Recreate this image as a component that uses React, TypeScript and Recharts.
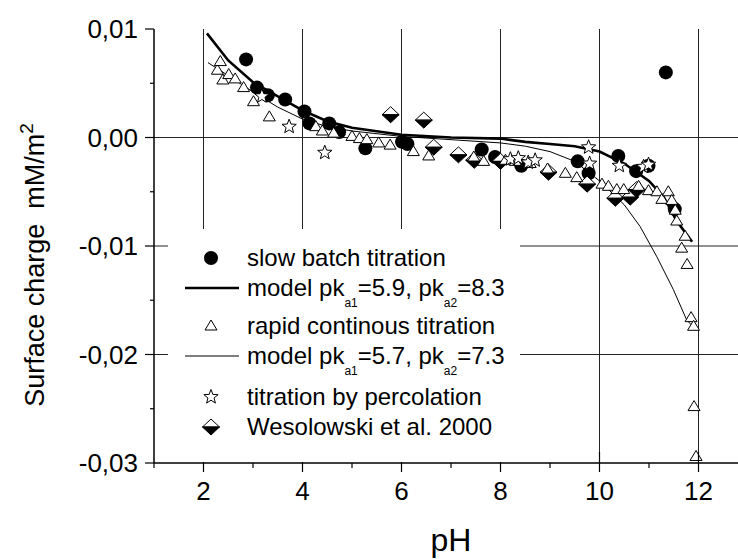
import React from 'react';
import { ScatterChart, Scatter, XAxis, YAxis, ReferenceLine } from 'recharts';

// surface charge (mM/m2) vs pH
const slowBatch: [number, number][] = [
  [2.86, 0.0072], [3.08, 0.0046], [3.3, 0.0039], [3.65, 0.0035], [4.04, 0.0024],
  [4.14, 0.0013], [4.54, 0.0013], [4.74, 0.0005], [5.27, -0.001], [6.01, -0.0004],
  [6.12, -0.0006], [7.62, -0.0011], [7.89, -0.0018], [8.42, -0.0026], [9.56, -0.0022],
  [9.78, -0.0033], [10.38, -0.0017], [10.74, -0.0031], [10.99, -0.0026], [11.34, 0.006],
  [11.52, -0.0066],
];

const modelSlow: [number, number][] = [
  [2.07, 0.0096], [2.5, 0.0071], [3.0, 0.0051], [3.5, 0.0038], [4.0, 0.0025],
  [4.5, 0.0015], [5.0, 0.0009], [6.0, 0.00025], [7.0, 0.0], [8.0, -0.0001],
  [8.5, -0.0004], [9.0, -0.0006], [9.5, -0.0008], [10.0, -0.0013], [10.5, -0.0024],
  [11.0, -0.004], [11.3, -0.0055], [11.56, -0.0077], [11.87, -0.0096],
];

const rapidCont: [number, number][] = [
  [2.28, 0.0062], [2.34, 0.007], [2.39, 0.0053], [2.51, 0.0058], [2.64, 0.0054],
  [2.81, 0.0046], [3.01, 0.0033], [3.33, 0.0019], [4.27, 0.001], [4.4, 0.0006],
  [4.63, 0.0004], [5.0, 0.0001], [5.15, -0.0001], [5.3, -0.0002], [5.54, -0.0005],
  [5.77, -0.0007], [6.24, -0.0013], [6.55, -0.0017], [7.46, -0.0018], [7.66, -0.0022],
  [8.1, -0.0021], [8.3, -0.0022], [8.6, -0.0024], [8.95, -0.0029], [9.31, -0.0033],
  [9.54, -0.0037], [10.05, -0.0043], [10.18, -0.0045], [10.35, -0.0048], [10.49, -0.0048],
  [10.79, -0.0045], [10.99, -0.0049], [11.16, -0.005], [11.26, -0.0057], [11.39, -0.005],
  [11.46, -0.0058], [11.53, -0.0067], [11.56, -0.0077], [11.66, -0.0102], [11.73, -0.0091],
  [11.77, -0.0117], [11.85, -0.0166], [11.9, -0.0174], [11.91, -0.0248], [11.95, -0.0294],
];

const modelRapid: [number, number][] = [
  [2.09, 0.0069], [2.5, 0.0057], [3.0, 0.0042], [3.5, 0.0028], [4.0, 0.0017],
  [4.5, 0.001], [5.0, 0.0006], [6.0, 0.0001], [7.0, -0.0002], [8.0, -0.0005],
  [8.5, -0.0008], [9.0, -0.0013], [9.5, -0.0022], [10.0, -0.004], [10.5, -0.0062],
  [10.82, -0.0082], [11.16, -0.011], [11.49, -0.014], [11.76, -0.0168], [11.9, -0.0175],
];

const percolation: [number, number][] = [
  [3.18, 0.0038], [3.73, 0.001], [4.45, -0.0014], [8.2, -0.002], [8.36, -0.0019],
  [8.56, -0.0023], [8.7, -0.0021], [9.78, -0.0009], [9.8, -0.0024], [10.4, -0.0026],
  [10.89, -0.0027], [10.99, -0.0025],
];

const wesolowski: [number, number][] = [
  [5.78, 0.0021], [6.45, 0.0016], [6.65, -0.0009], [7.15, -0.0016], [7.47, -0.0021],
  [8.0, -0.0022], [8.97, -0.0032], [9.75, -0.0043], [10.32, -0.0056], [10.62, -0.0055],
  [10.75, -0.0048],
];

const xTicks = [1, 2, 3, 4, 5, 6, 7, 8, 9, 10, 11, 12, 13];
const yTicks = [-0.03, -0.025, -0.02, -0.015, -0.01, -0.005, 0, 0.005, 0.01];
const gridX = [2, 4, 6, 8, 10, 12];
const gridY = [0, -0.01, -0.02];

const FONT = '"Liberation Sans", Arial, Helvetica, sans-serif';

const pts = (a: [number, number][]) => a.map(([x, y]) => ({ x, y }));

const Dot = ({ cx, cy }: any) => <circle cx={cx} cy={cy} r={7} fill="#000" />;

const Tri = ({ cx, cy }: any) => (
  <path d={`M${cx},${cy - 6} L${cx + 6},${cy + 4} L${cx - 6},${cy + 4} Z`} fill="#fff" stroke="#000" strokeWidth={1} />
);

const starPath = (cx: number, cy: number, R: number, r: number) => {
  let d = '';
  for (let i = 0; i < 10; i++) {
    const a = -Math.PI / 2 + (i * Math.PI) / 5;
    const rr = i % 2 === 0 ? R : r;
    d += `${i === 0 ? 'M' : 'L'}${cx + rr * Math.cos(a)},${cy + rr * Math.sin(a)} `;
  }
  return d + 'Z';
};

const Star = ({ cx, cy }: any) => <path d={starPath(cx, cy, 7.5, 3.2)} fill="#fff" stroke="#000" strokeWidth={1} />;

const HalfDiamond = ({ cx, cy }: any) => (
  <g>
    <path d={`M${cx - 8.5},${cy} L${cx},${cy - 8} L${cx + 8.5},${cy} Z`} fill="#fff" stroke="#000" strokeWidth={1} />
    <path d={`M${cx - 8.5},${cy} L${cx + 8.5},${cy} L${cx},${cy + 8} Z`} fill="#000" stroke="#000" strokeWidth={1} />
  </g>
);

const NoDot = () => <g />;

const BottomTick = ({ x, y, payload }: any) => {
  const v = payload.value;
  const major = v % 2 === 0;
  return (
    <g>
      <line x1={x} x2={x} y1={major ? y - 11 : y} y2={major ? y + 9 : y + 5} stroke="#000" strokeWidth={1.2} />
      {major && (
        <text x={x} y={y + 37} textAnchor="middle" fontSize={26} fontFamily={FONT} fill="#000">
          {v}
        </text>
      )}
    </g>
  );
};

const TopTick = ({ x, y }: any) => <line x1={x} x2={x} y1={y} y2={y + 6} stroke="#000" strokeWidth={1.2} />;

const LeftTick = ({ x, y, payload }: any) => {
  const v = payload.value;
  const major = Math.round(v * 1000) % 10 === 0;
  return (
    <g>
      <line x1={major ? x - 9 : x - 4} x2={x} y1={y} y2={y} stroke="#000" strokeWidth={1.2} />
      {major && (
        <text x={x - 16} y={y + 9} textAnchor="end" fontSize={26} fontFamily={FONT} fill="#000">
          {v.toFixed(2).replace('.', ',')}
        </text>
      )}
    </g>
  );
};

const sub = { fontSize: 12, position: 'relative' as const, top: 11 };

const Row = ({ top, icon, children }: any) => (
  <div style={{ position: 'absolute', left: 0, top: top - 15, height: 30, display: 'flex', alignItems: 'center', whiteSpace: 'nowrap' }}>
    <svg width={79} height={30} style={{ flex: 'none' }}>{icon}</svg>
    <span>{children}</span>
  </div>
);

const LegendBox = () => (
  <div style={{ position: 'absolute', left: 168, top: 229, width: 352, height: 233, background: '#fff', fontFamily: FONT, fontSize: 24, color: '#000' }}>
    <Row top={29} icon={<Dot cx={43} cy={15} />}>slow batch titration</Row>
    <Row top={58.5} icon={<line x1={17} x2={71} y1={15} y2={15} stroke="#000" strokeWidth={2.6} />}>
      model pk<span style={sub}>a1</span>=5.9, pk<span style={sub}>a2</span>=8.3
    </Row>
    <Row top={97} icon={<Tri cx={43} cy={15} />}>rapid continous titration</Row>
    <Row top={127} icon={<line x1={17} x2={71} y1={15} y2={15} stroke="#000" strokeWidth={1} />}>
      model pk<span style={sub}>a1</span>=5.7, pk<span style={sub}>a2</span>=7.3
    </Row>
    <Row top={168} icon={<Star cx={43} cy={15} />}>titration by percolation</Row>
    <Row top={198} icon={<HalfDiamond cx={43} cy={15} />}>Wesolowski et al. 2000</Row>
  </div>
);

export default function App() {
  return (
    <div style={{ position: 'absolute', left: 0, top: 0, width: 738, height: 559, overflow: 'hidden', background: '#fff' }}>
      <ScatterChart width={748} height={559} margin={{ top: 29, right: 0, bottom: 0, left: 54 }}>
        <XAxis
          dataKey="x"
          type="number"
          domain={[1, 13]}
          ticks={xTicks}
          interval={0}
          height={96}
          tickSize={0}
          tickMargin={0}
          tickLine={false}
          tick={<BottomTick />}
          axisLine={{ stroke: '#000', strokeWidth: 1.5 }}
        />
        <XAxis
          xAxisId="top"
          orientation="top"
          dataKey="x"
          type="number"
          domain={[1, 13]}
          ticks={xTicks}
          interval={0}
          height={0}
          tickSize={0}
          tickMargin={0}
          tickLine={false}
          tick={<TopTick />}
          axisLine={{ stroke: '#000', strokeWidth: 1.5 }}
        />
        <YAxis
          dataKey="y"
          type="number"
          domain={[-0.03, 0.01]}
          ticks={yTicks}
          interval={0}
          width={100}
          tickSize={0}
          tickMargin={0}
          tickLine={false}
          tick={<LeftTick />}
          axisLine={{ stroke: '#000', strokeWidth: 1.5 }}
        />
        {gridX.map((v) => (
          <ReferenceLine key={`gx${v}`} x={v} stroke="#222" strokeWidth={1} />
        ))}
        {gridY.map((v) => (
          <ReferenceLine key={`gy${v}`} y={v} stroke="#222" strokeWidth={1} />
        ))}
        <Scatter data={pts(modelRapid)} shape={NoDot} line={{ stroke: '#000', strokeWidth: 1, fill: 'none' }} isAnimationActive={false} />
        <Scatter data={pts(modelSlow)} shape={NoDot} line={{ stroke: '#000', strokeWidth: 2.6, fill: 'none' }} isAnimationActive={false} />
        <Scatter data={pts(slowBatch)} shape={Dot} isAnimationActive={false} />
        <Scatter data={pts(wesolowski)} shape={HalfDiamond} isAnimationActive={false} />
        <Scatter data={pts(rapidCont)} shape={Tri} isAnimationActive={false} />
        <Scatter data={pts(percolation)} shape={Star} isAnimationActive={false} />
      </ScatterChart>
      <svg width={738} height={559} style={{ position: 'absolute', left: 0, top: 0, pointerEvents: 'none' }}>
        <text
          transform="translate(44,265) rotate(-90)"
          textAnchor="middle"
          fontSize={27}
          fontFamily={FONT}
          fill="#000"
          style={{ whiteSpace: 'pre' }}
        >
          <tspan>Surface charge  mM/m</tspan>
          <tspan dy={-11} fontSize={19}>2</tspan>
        </text>
        <text x={451} y={551} textAnchor="middle" fontSize={32} fontFamily={FONT} fill="#000">
          pH
        </text>
      </svg>
      <LegendBox />
    </div>
  );
}
